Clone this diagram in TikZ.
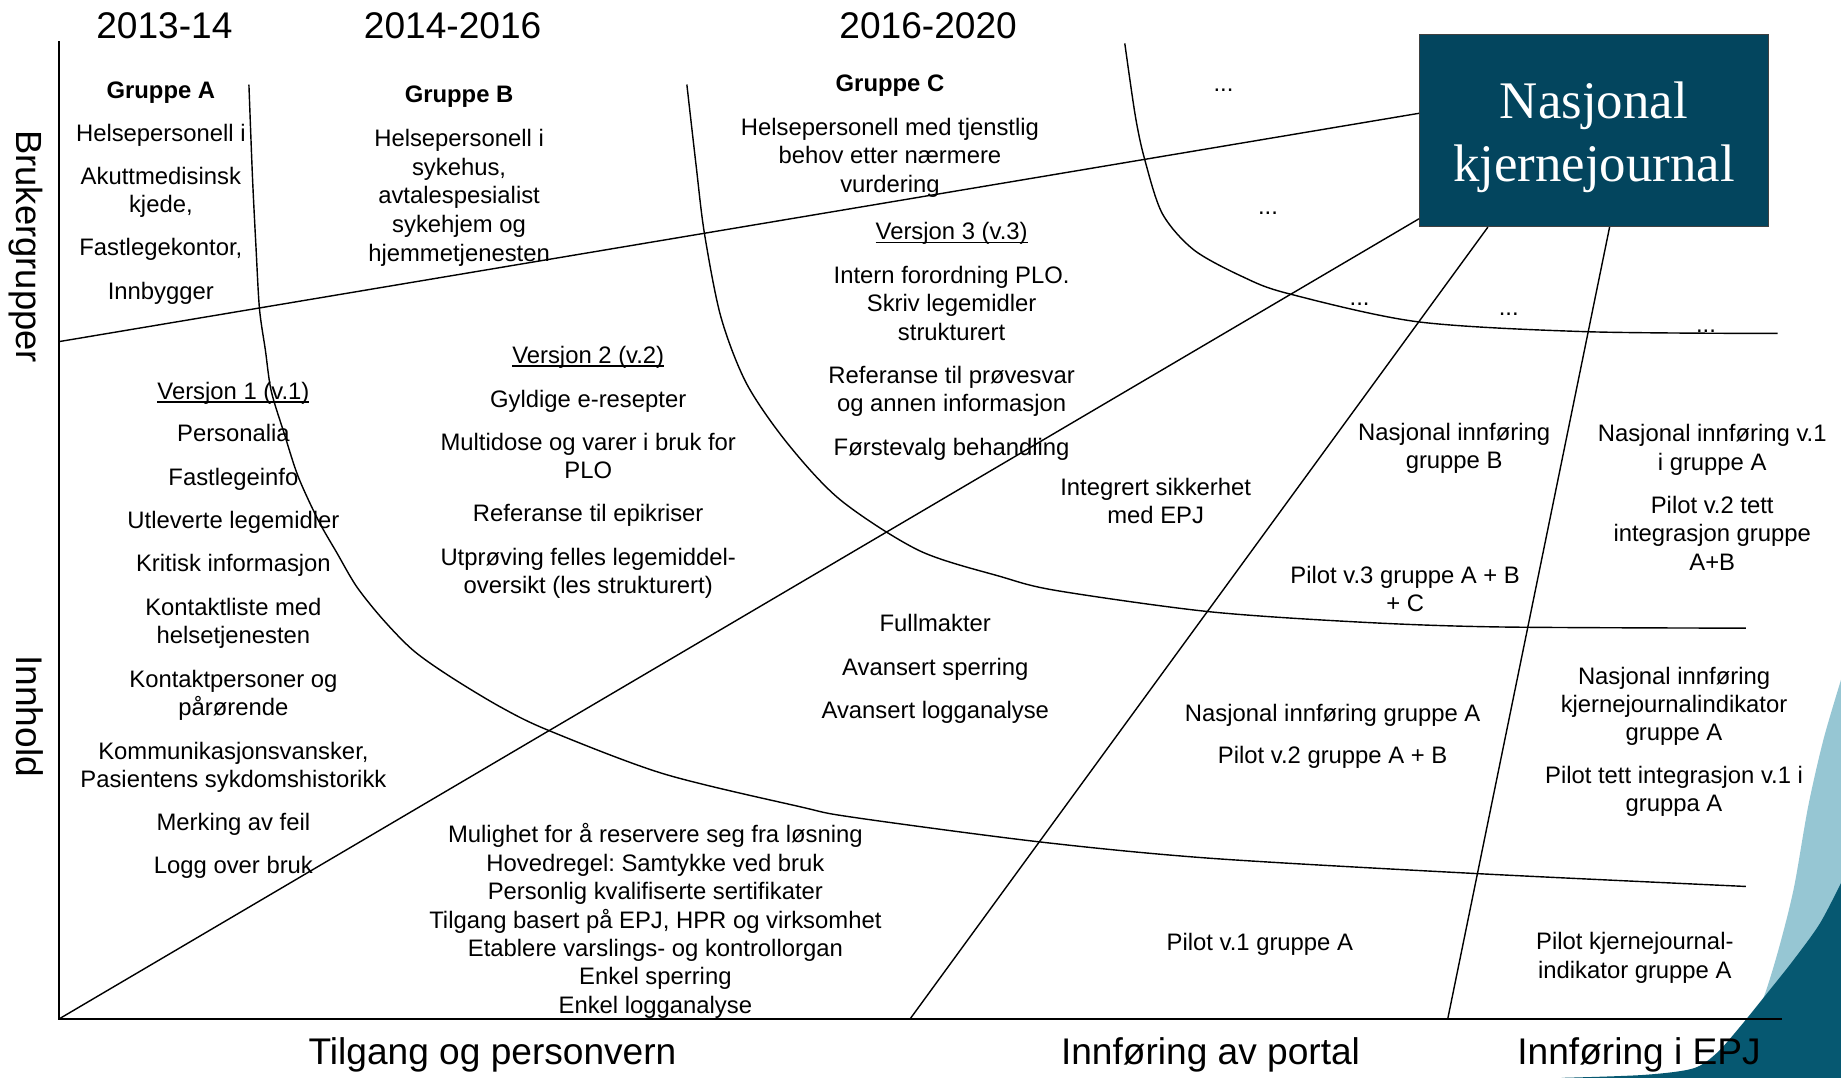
\documentclass[tikz,border=0pt]{standalone}
\usepackage{fontspec}
\setmainfont{Liberation Sans}
\newfontfamily\boxserif{Liberation Serif}
\usetikzlibrary{calc}
\definecolor{boxc}{RGB}{3,69,94}
\definecolor{lightc}{RGB}{150,198,211}
\definecolor{darkc}{RGB}{6,88,113}
\newcommand\myul[1]{\setbox0\hbox{#1}\leavevmode\rlap{\rule[-2.9pt]{\wd0}{1.5pt}}\box0}
\frenchspacing
\tikzset{
  tx/.style={font=\fontsize{20.3}{24.4}\selectfont, anchor=base, inner sep=0pt},
  txb/.style={font=\fontsize{20.3}{24.4}\selectfont\bfseries, anchor=base, inner sep=0pt},
  hdr/.style={font=\fontsize{31.6}{36}\selectfont, anchor=base, inner sep=0pt},
  ln/.style={line width=1.2pt, line join=round},
  ax/.style={line width=1.6pt},
  box/.style={draw=black!75, line width=0.8pt, fill=boxc, minimum width=297pt, minimum height=164pt, inner sep=0pt},
  boxtext/.style={font=\boxserif\fontsize{45}{54}\selectfont, text=white, anchor=base, inner sep=0pt},
}
\begin{document}
\begin{tikzpicture}[x=1pt,y=-1pt]
\useasboundingbox (0,0) rectangle (1568,918);
\fill[white] (0,0) rectangle (1568,918);
% corner decoration
\begin{scope}
\clip (0,0) rectangle (1568,918);
\fill[lightc] plot[smooth] coordinates {(1568,579) (1553,630) (1540,687) (1527.5,758) (1513,815) (1499,857.5) (1482,886) (1462,905.7) (1437,918)} -- (1568,918) -- cycle;
\fill[darkc] plot[smooth] coordinates {(1568,752) (1550,786.5) (1527.5,817.7) (1505,846) (1482,874.5) (1462,897) (1442,910) (1400,915.5) (1330,918)} -- (1568,918) -- cycle;
\end{scope}

% anchors
\coordinate (O) at (50,868);
\coordinate (Ytop) at (50,35);
\coordinate (Xend) at (1517.6,868);
\coordinate (B0) at (50,291);
\coordinate (P1) at (775,868);
\coordinate (P2) at (1233,868);

% curves
\draw[ln] plot[smooth] coordinates {(212,72) (215,150) (218,210) (221,263) (226,298) (231,333) (242,369) (254,406) (271,443) (287,471) (304,500) (326.5,528) (352,554) (383,576) (426,602) (467,622) (565,659) (681,687) (726,696) (885,717) (1031,731) (1257,744) (1487,755)};
\draw[ln] plot[smooth] coordinates {(585,72) (593,142) (600,199) (614,270) (636,327) (671,378) (716,426) (783,469) (852,491) (900,503) (1030,521) (1161,530) (1278,534) (1487,535)};
\draw[ln] plot[smooth] coordinates {(958,37) (967,99) (975,136) (990,182) (1017,213) (1059,236) (1097,250) (1207,274) (1351,282.5) (1514,284)};

% box
\node[box] (nkj) at (1357.5,111) {};
\draw[ax] (Ytop) -- (O) -- (Xend);
\draw[ln] (B0) -- ($(nkj.south west)!0.588!(nkj.north west)$);
\draw[ln] (O) -- ($(nkj.south west)!0.043!(nkj.north west)$);
\draw[ln] (P1) -- ($(nkj.south west)!0.197!(nkj.south east)$);
\draw[ln] (P2) -- ($(nkj.south west)!0.545!(nkj.south east)$);
\node[boxtext] (nkj1) at (1357.5,100.8) {Nasjonal};
\node[boxtext] (nkj2) at (1357.5,154.8) {kjernejournal};

% headers
\node[hdr] (h1) at (140,32.5) {2013-14};
\node[hdr] (h2) at (385.5,32.5) {2014-2016};
\node[hdr] (h3) at (790.5,32.5) {2016-2020};
\node[hdr] (f1) at (419.5,907) {Tilgang og personvern};
\node[hdr] (f2) at (1031,907) {Innføring av portal};
\node[hdr] (f3) at (1396,907) {Innføring i EPJ};
\node[font=\fontsize{31}{36}\selectfont, anchor=base, inner sep=0pt, rotate=-90] (ybk) at (14,210) {Brukergrupper};
\node[font=\fontsize{31.6}{36}\selectfont, anchor=base, inner sep=0pt, rotate=-90] (yin) at (14,610) {Innhold};

% Gruppe A
\node[txb] (ga0) at (137,84) {Gruppe A};
\node[tx] (ga1) at (137,120.7) {Helsepersonell i};
\node[tx] (ga2) at (137,156.8) {Akuttmedisinsk};
\node[tx] (ga3) at (137,181.2) {kjede,};
\node[tx] (ga4) at (137,218) {Fastlegekontor,};
\node[tx] (ga5) at (137,255) {Innbygger};

% Gruppe B
\node[txb] (gb0) at (391,87) {Gruppe B};
\node[tx] (gb1) at (391,125) {Helsepersonell i};
\node[tx] (gb2) at (391,149.3) {sykehus,};
\node[tx] (gb3) at (391,173.7) {avtalespesialist};
\node[tx] (gb4) at (391,198.1) {sykehjem og};
\node[tx] (gb5) at (391,222.5) {hjemmetjenesten};

% Gruppe C
\node[txb] (gc0) at (758,78) {Gruppe C};
\node[tx] (gc1) at (758,115) {Helsepersonell med tjenstlig};
\node[tx] (gc2) at (758,139.4) {behov etter nærmere};
\node[tx] (gc3) at (758,163.8) {vurdering};

% Versjon 3
\node[tx] (v30) at (810.5,204.4) {\myul{Versjon 3 (v.3)}};
\node[tx] (v31) at (810.5,241.3) {Intern forordning PLO.};
\node[tx] (v32) at (810.5,265.5) {Skriv legemidler};
\node[tx] (v33) at (810.5,289.7) {strukturert};
\node[tx] (v34) at (810.5,326.6) {Referanse til prøvesvar};
\node[tx] (v35) at (810.5,350.8) {og annen informasjon};
\node[tx] (v36) at (810.5,387.7) {Førstevalg behandling};

% Versjon 2
\node[tx] (v20) at (501,309.5) {\myul{Versjon 2 (v.2)}};
\node[tx] (v21) at (501,347) {Gyldige e-resepter};
\node[tx] (v22) at (501,383.3) {Multidose og varer i bruk for};
\node[tx] (v23) at (501,407.5) {PLO};
\node[tx] (v24) at (501,444.3) {Referanse til epikriser};
\node[tx] (v25) at (501,481.3) {Utprøving felles legemiddel-};
\node[tx] (v26) at (501,505.5) {oversikt (les strukturert)};

% Versjon 1
\node[tx] (v10) at (198.8,340.1) {\myul{Versjon 1 (v.1)}};
\node[tx] (v11) at (198.8,376.2) {Personalia};
\node[tx] (v12) at (198.8,413.1) {Fastlegeinfo};
\node[tx] (v13) at (198.8,450) {Utleverte legemidler};
\node[tx] (v14) at (198.8,486.9) {Kritisk informasjon};
\node[tx] (v15) at (198.8,523.9) {Kontaktliste med};
\node[tx] (v16) at (198.8,548) {helsetjenesten};
\node[tx] (v17) at (198.8,585.5) {Kontaktpersoner og};
\node[tx] (v18) at (198.8,609.6) {pårørende};
\node[tx] (v19) at (198.8,646.8) {Kommunikasjonsvansker,};
\node[tx] (v1a) at (198.8,670.8) {Pasientens sykdomshistorikk};
\node[tx] (v1b) at (198.8,707.2) {Merking av feil};
\node[tx] (v1c) at (198.8,744) {Logg over bruk};

% Tilgang block
\node[tx] (tp1) at (558.2,717.8) {Mulighet for å reservere seg fra løsning};
\node[tx] (tp2) at (558.2,742) {Hovedregel: Samtykke ved bruk};
\node[tx] (tp3) at (558.2,766.2) {Personlig kvalifiserte sertifikater};
\node[tx] (tp4) at (558.2,790.4) {Tilgang basert på EPJ, HPR og virksomhet};
\node[tx] (tp5) at (558.2,814.6) {Etablere varslings- og kontrollorgan};
\node[tx] (tp6) at (558.2,838.8) {Enkel sperring};
\node[tx] (tp7) at (558.2,863) {Enkel logganalyse};

\node[tx] (fm1) at (796.6,538) {Fullmakter};
\node[tx] (fm2) at (796.6,575) {Avansert sperring};
\node[tx] (fm3) at (796.6,611.8) {Avansert logganalyse};

\node[tx] (is1) at (984.3,421.6) {Integrert sikkerhet};
\node[tx] (is2) at (984.3,445.8) {med EPJ};

% portal column
\node[tx] (nb1) at (1238.5,374.8) {Nasjonal innføring};
\node[tx] (nb2) at (1238.5,399) {gruppe B};
\node[tx] (p31) at (1196.8,496.9) {Pilot v.3 gruppe A + B};
\node[tx] (p32) at (1196.8,521) {+ C};
\node[tx] (na1) at (1135,614.7) {Nasjonal innføring gruppe A};
\node[tx] (na2) at (1135,650.2) {Pilot v.2 gruppe A + B};
\node[tx] (pv1) at (1073,809.3) {Pilot v.1 gruppe A};

% EPJ column
\node[tx] (e11) at (1458.3,376.2) {Nasjonal innføring v.1};
\node[tx] (e12) at (1458.3,400.4) {i gruppe A};
\node[tx] (e13) at (1458.3,437.2) {Pilot v.2 tett};
\node[tx] (e14) at (1458.3,461.4) {integrasjon gruppe};
\node[tx] (e15) at (1458.3,485.6) {A+B};
\node[tx] (e21) at (1425.8,582.6) {Nasjonal innføring};
\node[tx] (e22) at (1425.8,606.6) {kjernejournalindikator};
\node[tx] (e23) at (1425.8,630.6) {gruppe A};
\node[tx] (e24) at (1425.8,667.2) {Pilot tett integrasjon v.1 i};
\node[tx] (e25) at (1425.8,691.4) {gruppa A};
\node[tx] (e31) at (1392.4,808.6) {Pilot kjernejournal-};
\node[tx] (e32) at (1392.4,833.2) {indikator gruppe A};

% dots
\node[tx] (d1) at (1042,78) {...};
\node[tx] (d2) at (1080,183) {...};
\node[tx] (d3) at (1158,260) {...};
\node[tx] (d4) at (1285,269) {...};
\node[tx] (d5) at (1453,283) {...};
\end{tikzpicture}
\end{document}
